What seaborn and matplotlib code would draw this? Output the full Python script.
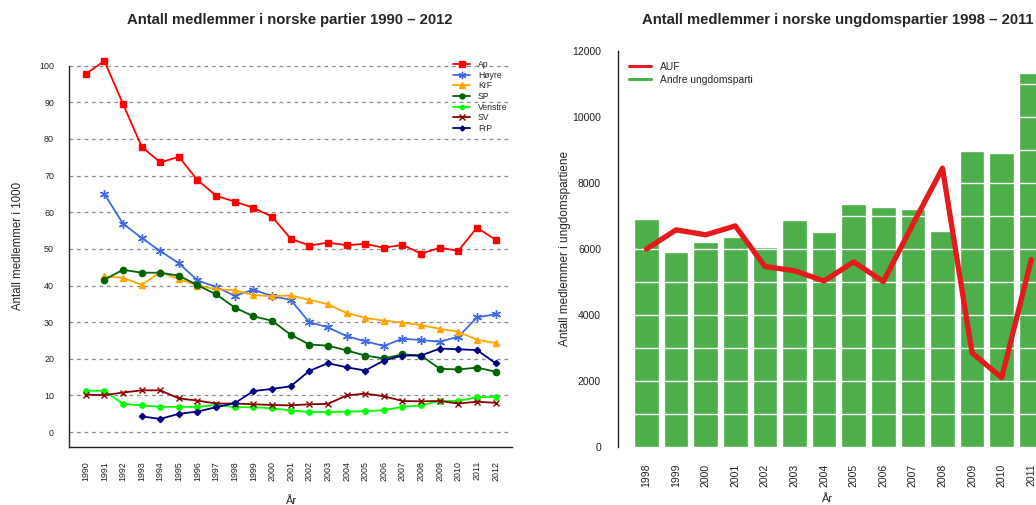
import numpy as np
import pandas as pd
import matplotlib
matplotlib.use("Agg")
import matplotlib.pyplot as plt
from matplotlib.lines import Line2D
import seaborn as sns

sns.set_style("white")
plt.rcParams['font.family'] = ['Liberation Sans', 'DejaVu Sans']

nan = np.nan
# ---------------- Left panel data (members in 1000) ----------------
years = list(range(1990, 2013))
ap = [97.7, 101.3, 89.6, 77.9, 73.6, 75.1, 68.8, 64.5, 62.9, 61.2, 58.8, 52.8,
      50.9, 51.7, 51.0, 51.4, 50.3, 51.1, 48.7, 50.3, 49.5, 55.8, 52.5]
hoyre = [nan, 65.0, 56.9, 53.0, 49.4, 46.1, 41.4, 39.6, 37.2, 38.9, 37.1, 36.1,
         30.0, 28.6, 26.2, 24.8, 23.5, 25.5, 25.1, 24.7, 26.0, 31.3, 32.2]
krf = [nan, 42.5, 42.1, 40.2, 43.6, 41.8, 40.0, 39.0, 38.7, 37.4, 37.1, 37.3,
       36.1, 34.9, 32.5, 31.2, 30.4, 29.9, 29.2, 28.2, 27.4, 25.2, 24.3]
sp = [nan, 41.6, 44.3, 43.5, 43.5, 42.7, 40.1, 37.6, 34.0, 31.6, 30.4, 26.6,
      23.9, 23.6, 22.3, 20.9, 20.1, 21.2, 20.9, 17.3, 17.1, 17.6, 16.5]
venstre = [11.3, 11.3, 7.7, 7.3, 6.9, 6.9, 6.9, 7.4, 6.8, 6.8, 6.5, 5.9,
           5.5, 5.5, 5.6, 5.7, 6.0, 6.9, 7.3, 8.5, 8.5, 9.5, 9.6]
sv = [10.2, 10.1, 10.8, 11.4, 11.4, 9.2, 8.6, 7.8, 7.8, 7.6, 7.4, 7.3,
      7.6, 7.7, 10.0, 10.5, 9.8, 8.5, 8.4, 8.5, 7.8, 8.3, 8.0]
frp = [nan, nan, nan, 4.3, 3.6, 5.0, 5.6, 6.8, 7.9, 11.2, 11.8, 12.5,
       16.7, 18.8, 17.7, 16.8, 19.5, 20.9, 20.9, 22.8, 22.6, 22.4, 18.8]

party_names = ["Ap", "Høyre", "KrF", "SP", "Venstre", "SV", "FrP"]
party_values = [ap, hoyre, krf, sp, venstre, sv, frp]
party_colors = ["#FF0000", "#4169E1", "#FFA500", "#006400", "#00FF00", "#8B0000", "#000080"]
party_markers = ["s", (6, 2, 0), "^", "o", "o", "x", "D"]
party_msize = [5.0, 6.5, 5.0, 4.5, 3.8, 5.0, 3.2]

# ---------------- Right panel data ----------------
youth_years = [str(y) for y in range(1998, 2012)]
andre = [6900, 5900, 6200, 6350, 6060, 6880, 6520, 7360, 7270, 7210, 6545, 8970, 8910, 11330]
auf = [6000, 6580, 6430, 6700, 5470, 5340, 5030, 5610, 5010, 6750, 8450, 2850, 2100, 5680]

W, H = 1036, 505
fig = plt.figure(figsize=(W / 100, H / 100), dpi=100)

# ================= Left panel =================
ax1 = fig.add_axes([69.3 / W, (H - 447) / H, (512 - 69.3) / W, (447 - 45.5) / H])
for yv in range(0, 101, 10):
    ax1.axhline(yv, color="#8c8c8c", lw=0.9, ls=(0, (3, 3)), zorder=0)

for name, vals, col, mk, ms in zip(party_names, party_values, party_colors, party_markers, party_msize):
    df = pd.DataFrame({"year": years, "val": vals}).dropna()
    sns.lineplot(data=df, x="year", y="val", ax=ax1, color=col, marker=mk,
                 markersize=ms, markeredgecolor=col, markerfacecolor=col,
                 markeredgewidth=1.0, linewidth=1.3, label=name, zorder=3)

ax1.set_xlim(1989.12, 2012.88)
ax1.set_ylim(-4.06, 105.5)
ax1.set_xticks(years)
ax1.set_xticklabels([str(y) for y in years], rotation=90, fontsize=6.4, color="#222222")
ax1.set_yticks(range(0, 101, 10))
ax1.set_yticklabels([str(v) for v in range(0, 101, 10)], fontsize=6.4, color="#222222")
ax1.tick_params(axis="both", direction="out", length=6, width=0.8, color="#222222", pad=4)
ax1.tick_params(axis="y", pad=5)
for s in ["top", "right"]:
    ax1.spines[s].set_visible(False)
for s in ["left", "bottom"]:
    ax1.spines[s].set_color("#222222")
    ax1.spines[s].set_linewidth(1.0)
ax1.spines["left"].set_bounds(-4.06, 100)
ax1.set_xlabel("År", fontsize=8, labelpad=11)
ax1.set_ylabel("Antall medlemmer i 1000", fontsize=8.3, labelpad=11)
leg1 = ax1.legend(loc="upper right", bbox_to_anchor=(1.0, 0.975), frameon=False,
                  fontsize=6.2, handlelength=2.0, handletextpad=0.9, labelspacing=0.2,
                  borderpad=0, markerscale=0.8)

fig.text(290 / W, 1 - 20 / H, "Antall medlemmer i norske partier 1990 – 2012",
         ha="center", va="center", fontsize=10.7, fontweight="bold")

# ================= Right panel =================
ax2 = fig.add_axes([617.7 / W, (H - 447) / H, (W - 617.7) / W, (447 - 51) / H])
sns.barplot(x=youth_years, y=andre, ax=ax2, color="#4DAF4A", saturation=1, width=0.83, zorder=1)
for yv in range(1000, 12001, 1000):
    ax2.axhline(yv, color="white", lw=1.0, zorder=2)
sns.lineplot(x=np.arange(len(auf)), y=auf, ax=ax2, color="#E41A1C", linewidth=3.8, zorder=4,
             solid_capstyle="round", solid_joinstyle="round")
ax2.set_xlim(-0.973, 13.16)
ax2.set_ylim(0, 12000)
ax2.set_yticks(range(0, 12001, 2000))
ax2.set_yticklabels([str(v) for v in range(0, 12001, 2000)], fontsize=7.5, color="#222222")
ax2.tick_params(axis="y", direction="out", length=7, width=0.8, color="#222222", pad=5)
ax2.tick_params(axis="x", length=0, pad=12)
ax2.set_xticks(range(len(youth_years)))
ax2.set_xticklabels(youth_years, rotation=90, fontsize=7.5, color="#222222")
for s in ["top", "right", "bottom"]:
    ax2.spines[s].set_visible(False)
ax2.spines["left"].set_color("#222222")
ax2.spines["left"].set_linewidth(1.0)
ax2.set_xlabel("År", fontsize=8, labelpad=5)
ax2.set_ylabel("Antall medlemmer i ungdomspartiene", fontsize=8.5, labelpad=1)
handles = [Line2D([0], [0], color="#E41A1C", lw=2.2), Line2D([0], [0], color="#4DAF4A", lw=2.2)]
ax2.legend(handles, ["AUF", "Andre ungdomsparti"], loc="upper left",
           bbox_to_anchor=(0.015, 0.985), frameon=False, fontsize=7.4,
           handlelength=2.1, handletextpad=0.9, labelspacing=0.25, borderpad=0)

fig.text(838 / W, 1 - 20 / H, "Antall medlemmer i norske ungdomspartier 1998 – 2011",
         ha="center", va="center", fontsize=10.7, fontweight="bold")

fig.savefig("out.png", dpi=100)
